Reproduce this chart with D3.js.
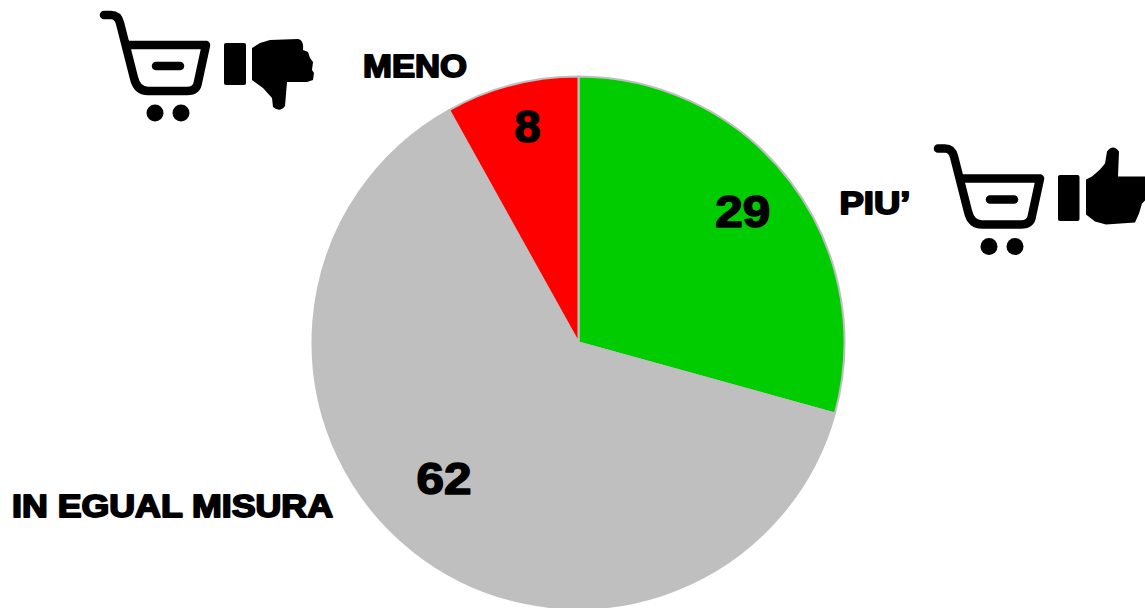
<!DOCTYPE html>
<html>
<head>
<meta charset="utf-8">
<script src="https://cdn.jsdelivr.net/npm/d3@7"></script>
<style>
  html, body { margin: 0; padding: 0; background: #fff; overflow: hidden; }
  text { font-family: "Liberation Sans", Arial, sans-serif; font-weight: 700; fill: #000; stroke: #000; stroke-linejoin: round; }
</style>
</head>
<body>
<div id="chart"></div>
<script>
// Sample data
const categories = ["PIU’", "IN EGUAL MISURA", "MENO"];
const values = [29, 62, 8];
const sliceColors = ["#00cc00", "#bfbfbf", "#ff0000"];

const width = 1145;
const height = 608;
const cx = 578.5;
const cy = 342.5;
const radius = 266;

const svg = d3
  .select("#chart")
  .append("svg")
  .attr("width", width)
  .attr("height", height);

const color = d3.scaleOrdinal().domain(categories).range(sliceColors);

const pie = d3.pie().sort(null).value((d) => d.value);
const arc = d3.arc().innerRadius(0).outerRadius(radius);

const slices = pie(categories.map((c, i) => ({ category: c, value: values[i] })));

// Draw slices
svg
  .append("g")
  .attr("transform", `translate(${cx},${cy})`)
  .selectAll("path")
  .data(slices)
  .enter()
  .append("path")
  .attr("d", arc)
  .attr("fill", (d) => color(d.data.category))
  .attr("stroke", "#bfbfbf")
  .attr("stroke-width", 2);

// Value labels, polar offset from the pie centre
const labelPos = [
  { r: 210, a: 0.898, w: 55 },
  { r: 192, a: 3.918, w: 55 },
  { r: 221, a: -0.233, w: 26 },
];
svg
  .append("g")
  .selectAll("text")
  .data(values)
  .enter()
  .append("text")
  .attr("x", (d, i) => cx + labelPos[i].r * Math.sin(labelPos[i].a) - labelPos[i].w / 2)
  .attr("y", (d, i) => cy - labelPos[i].r * Math.cos(labelPos[i].a) + 15)
  .attr("font-size", 45)
  .attr("stroke-width", 1.6)
  .attr("textLength", (d, i) => labelPos[i].w)
  .attr("lengthAdjust", "spacingAndGlyphs")
  .text((d) => d);

// Category labels, stretched to the heavy wide look of the original
const nameLabels = [
  { x: 839.5, y: 214, w: 71 },
  { x: 12, y: 517, w: 321 },
  { x: 363, y: 77, w: 104 },
];
svg
  .append("g")
  .selectAll("text")
  .data(categories)
  .enter()
  .append("text")
  .attr("x", (d, i) => nameLabels[i].x)
  .attr("y", (d, i) => nameLabels[i].y)
  .attr("font-size", 31)
  .attr("stroke-width", 1.8)
  .attr("textLength", (d, i) => nameLabels[i].w)
  .attr("lengthAdjust", "spacingAndGlyphs")
  .text((d) => d);

// Cart icon
function drawCart(g) {
  g.append("path")
    .attr("d", "M14,15 H21 Q28,15 30,23 L44,78 Q47,91 58,91 H97 Q107,91 108,82 L116,45 H39")
    .attr("fill", "none")
    .attr("stroke", "#000")
    .attr("stroke-width", 8.5)
    .attr("stroke-linecap", "round")
    .attr("stroke-linejoin", "round");
  g.append("path")
    .attr("d", "M66,66 H90")
    .attr("stroke", "#000")
    .attr("stroke-width", 8.5)
    .attr("stroke-linecap", "round");
  g.selectAll("circle")
    .data([65, 91])
    .enter()
    .append("circle")
    .attr("cx", (d) => d)
    .attr("cy", 113)
    .attr("r", 8.5)
    .attr("fill", "#000");
}

const handDown =
  "M162,48 L170,43 L180,40 L208,39 Q214,40 213,50 L218,52 L220,58 L223,62 L222,70 L224,73 L223,80 L217,82 L197,82 L195,106 Q190,113 183,107 L182,98 L173,88 L162,80 Z";
const handUp =
  "M162,46 L168,43 L176,36 L181,30 L183,18 Q189,10 195,18 L194,43 L222,43 L222,66 L218,70 L215,80 L211,89 L182,91 L171,88 L162,81 Z";

const downIcon = svg.append("g").attr("transform", "translate(90,0)");
drawCart(downIcon);
downIcon.append("rect").attr("x", 134).attr("y", 43).attr("width", 22).attr("height", 42).attr("rx", 2);
downIcon.append("path").attr("d", handDown);

const upIcon = svg.append("g").attr("transform", "translate(924,133.5)");
drawCart(upIcon);
upIcon.append("rect").attr("x", 134).attr("y", 41.5).attr("width", 21.5).attr("height", 46).attr("rx", 2);
upIcon.append("path").attr("d", handUp);
</script>
</body>
</html>
